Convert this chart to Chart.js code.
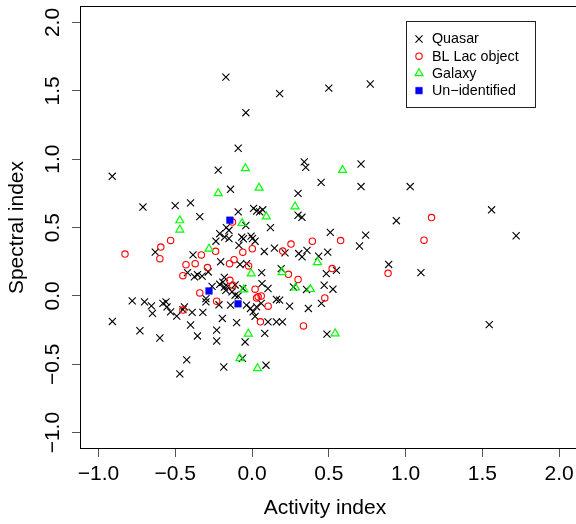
<!DOCTYPE html>
<html>
<head>
<meta charset="utf-8">
<script src="https://cdn.jsdelivr.net/npm/chart.js@4.4.0/dist/chart.umd.min.js"></script>
<style>
  html, body { margin: 0; padding: 0; background: #fff; }
  #wrap { width: 576px; height: 524px; }
</style>
</head>
<body>
<div id="wrap"><canvas id="myChart" width="576" height="524"></canvas></div>
<script>
const FONT = '"Liberation Sans", Arial, Helvetica, sans-serif';

const categories = ['Quasar', 'BL Lac object', 'Galaxy', 'Un\u2212identified'];
const tickValues = [-1.0, -0.5, 0.0, 0.5, 1.0, 1.5, 2.0];

// [activity index, spectral index]
const quasar = [
  [-0.17,1.60],[0.18,1.48],[0.50,1.52],[0.77,1.55],[-0.04,1.34],[-0.09,1.08],
  [-0.91,0.875],[-0.22,0.92],[0.34,0.98],[0.35,0.94],[0.71,0.965],[0.45,0.83],[0.71,0.80],[1.03,0.80],
  [-0.14,0.78],[0.30,0.75],[-0.71,0.65],[-0.50,0.66],[-0.40,0.68],[-0.34,0.58],[1.56,0.63],
  [-0.09,0.615],[0.01,0.64],[0.03,0.62],[0.07,0.63],[0.05,0.615],[0.30,0.59],[0.325,0.575],[0.94,0.55],
  [0.12,0.50],[-0.04,0.515],[-0.167,0.50],[-0.15,0.48],[0.51,0.465],[1.72,0.44],[0.74,0.445],
  [-0.21,0.455],[-0.178,0.43],[-0.15,0.42],[-0.235,0.40],
  [-0.067,0.43],[-0.056,0.418],[-0.006,0.437],[0.003,0.42],[0.02,0.40],
  [-0.085,0.37],[0.70,0.365],[0.146,0.35],[0.358,0.333],[0.493,0.32],[0.304,0.31],[0.08,0.325],[0.215,0.315],
  [-0.63,0.32],[-0.384,0.30],[0.326,0.285],[0.434,0.29],[-0.204,0.25],[-0.035,0.236],[-0.078,0.23],[0.89,0.23],
  [0.19,0.20],[0.484,0.163],[0.55,0.187],[1.10,0.17],[0.063,0.17],
  [-0.42,0.17],[-0.355,0.155],[-0.375,0.14],[-0.325,0.145],[-0.285,0.175],
  [-0.18,0.135],[-0.19,0.10],[-0.21,0.085],[-0.18,0.065],[-0.16,0.07],[-0.17,0.04],[-0.13,0.03],[-0.11,0.08],[-0.09,0.0],[-0.11,0.005],
  [0.065,0.09],[0.104,0.054],[0.47,0.078],[0.527,0.049],[0.355,0.047],[0.27,0.065],[-0.26,0.07],[-0.06,0.055],
  [-0.78,-0.036],[-0.70,-0.044],[-0.655,-0.073],[-0.648,-0.128],[-0.58,-0.055],[-0.56,-0.044],[-0.553,-0.08],[-0.53,-0.117],[-0.49,-0.148],
  [-0.44,-0.08],[-0.45,-0.10],[-0.39,-0.12],[-0.32,-0.12],[-0.30,-0.044],[-0.30,-0.02],[-0.215,-0.065],[-0.14,-0.068],
  [-0.036,-0.068],[-0.01,-0.092],[0.007,-0.117],[0.02,-0.15],[0.03,-0.08],[0.06,-0.055],
  [0.159,-0.026],[0.18,-0.031],[0.245,-0.075],[0.367,-0.092],[0.452,-0.055],
  [-0.909,-0.187],[-0.73,-0.255],[-0.60,-0.308],[-0.40,-0.213],[-0.355,-0.293],[-0.23,-0.25],[-0.23,-0.33],[-0.193,-0.165],[-0.10,-0.196],
  [0.104,-0.19],[0.159,-0.19],[0.198,-0.19],[0.083,-0.274],[-0.045,-0.337],[0.488,-0.28],[1.545,-0.21],
  [-0.425,-0.468],[-0.47,-0.57],[-0.184,-0.52],[-0.062,-0.456],[0.091,-0.507]
];

const blLac = [
  [-0.827,0.306],[-0.594,0.357],[-0.60,0.272],[-0.53,0.406],[-0.43,0.228],[-0.45,0.148],[-0.37,0.236],[-0.33,0.30],[-0.29,0.207],[-0.237,0.326],
  [-0.34,0.022],[-0.45,-0.104],[-0.23,-0.039],[-0.146,0.236],[-0.117,0.265],[-0.144,0.114],[-0.125,0.078],[-0.127,0.54],[-0.06,0.32],[0.002,0.345],
  [-0.022,0.219],[0.02,0.049],[0.03,-0.015],[0.04,-0.007],[0.06,0.0],[0.105,-0.075],[0.055,-0.19],[0.2,0.328],[0.254,0.379],[0.237,0.158],
  [0.30,0.12],[0.393,0.40],[0.335,-0.22],[0.474,-0.015],[0.522,0.20],[0.577,0.405],[0.886,0.165],[1.12,0.408],[1.169,0.573]
];

const galaxy = [
  [-0.043,0.933],[0.59,0.92],[-0.22,0.75],[0.046,0.79],[0.28,0.654],[0.093,0.58],[-0.47,0.552],[-0.47,0.484],[-0.065,0.532],[-0.28,0.345],
  [0.426,0.245],[-0.005,0.163],[0.196,0.173],[0.283,0.06],[0.38,0.049],[-0.053,0.046],[-0.024,-0.277],[0.541,-0.275],[-0.079,-0.457],[0.036,-0.53]
];

const unidentified = [
  [-0.144,0.554],[-0.28,0.036],[-0.091,-0.058]
];

const toXY = arr => arr.map(p => ({x: p[0], y: p[1]}));
const fmt = v => Number(v).toFixed(1).replace('-', '\u2212');

const datasets = [
  {label: categories[0], data: toXY(quasar), pointStyle: 'crossRot', pointRadius: 5,
   borderColor: '#000000', backgroundColor: 'rgba(0,0,0,0)', pointBorderWidth: 1.1, order: 4},
  {label: categories[1], data: toXY(blLac), pointStyle: 'circle', pointRadius: 3.2,
   borderColor: '#ff0000', backgroundColor: 'rgba(0,0,0,0)', pointBorderWidth: 1.1, order: 3},
  {label: categories[2], data: toXY(galaxy), pointStyle: 'triangle', pointRadius: 4.6,
   borderColor: '#00ff00', backgroundColor: 'rgba(0,0,0,0)', pointBorderWidth: 1.2, order: 2},
  {label: categories[3], data: toXY(unidentified), pointStyle: 'rect', pointRadius: 4.7,
   borderColor: '#0000ff', backgroundColor: '#0000ff', pointBorderWidth: 0.5, order: 1}
];

// box round the plot (runs past the right edge, as in the original) + R-like legend
const boxPlugin = {
  id: 'rbox',
  afterDatasetsDraw(chart) {
    const ctx = chart.ctx;
    const a = chart.chartArea;
    ctx.save();
    ctx.strokeStyle = '#000';
    ctx.lineWidth = 1;
    const top = Math.round(a.top) + 0.5;
    const bottom = Math.round(a.bottom) - 0.5;
    ctx.strokeRect(Math.round(a.left) + 0.5, top, chart.width + 10, bottom - top);

    const lx = 406.5, ly = 21.5, lw = 129, lh = 86;
    ctx.strokeStyle = '#222';
    ctx.strokeRect(lx, ly, lw, lh);
    ctx.font = '14.3px ' + FONT;
    ctx.textBaseline = 'middle';
    ctx.textAlign = 'left';
    chart.data.datasets.forEach((ds, i) => {
      const y = 39 + i * 17.2;
      ctx.strokeStyle = ds.borderColor;
      ctx.fillStyle = ds.backgroundColor;
      ctx.lineWidth = ds.pointBorderWidth;
      Chart.helpers.drawPoint(ctx, {
        pointStyle: ds.pointStyle, rotation: 0, radius: ds.pointRadius,
        borderWidth: ds.pointBorderWidth
      }, 419, y);
      ctx.fillStyle = '#000';
      ctx.fillText(ds.label, 432, y + 0.5);
    });
    ctx.restore();
  }
};

const config = {
  type: 'scatter',
  data: {datasets: datasets},
  options: {
    responsive: false,
    animation: false,
    devicePixelRatio: 1,
    events: [],
    layout: {padding: {top: 4, left: 0, right: 0, bottom: 0}},
    plugins: {legend: {display: false}, tooltip: {enabled: false}},
    scales: {
      x: {
        type: 'linear', position: 'bottom',
        min: -1.12, max: 2.07,
        afterBuildTicks: s => { s.ticks = tickValues.map(v => ({value: v})); },
        afterFit: s => { s.height = 75; s.paddingLeft = 0; s.paddingRight = 0; },
        border: {display: false},
        grid: {display: true, drawOnChartArea: false, drawTicks: true, tickLength: 8, tickColor: '#555', lineWidth: 1},
        ticks: {autoSkip: false, maxRotation: 0, minRotation: 0, padding: 5, color: '#000',
                font: {family: FONT, size: 21}, callback: v => fmt(v)},
        title: {display: true, text: 'Activity index', color: '#000',
                font: {family: FONT, size: 21}, padding: {top: 0, bottom: 3}}
      },
      y: {
        type: 'linear', position: 'left',
        min: -1.12, max: 2.12,
        afterBuildTicks: s => { s.ticks = tickValues.map(v => ({value: v})); },
        afterFit: s => { s.width = 80; s.paddingTop = 0; s.paddingBottom = 0; },
        border: {display: false},
        grid: {display: true, drawOnChartArea: false, drawTicks: true, tickLength: 8, tickColor: '#555', lineWidth: 1},
        ticks: {autoSkip: false, minRotation: 90, maxRotation: 90, crossAlign: 'center', padding: -2, color: '#000',
                font: {family: FONT, size: 21}, callback: v => fmt(v)},
        title: {display: true, text: 'Spectral index', color: '#000',
                font: {family: FONT, size: 21}, padding: {top: 5, bottom: 0}}
      }
    }
  },
  plugins: [boxPlugin]
};

const myChart = new Chart(document.getElementById('myChart'), config);
</script>
</body>
</html>
